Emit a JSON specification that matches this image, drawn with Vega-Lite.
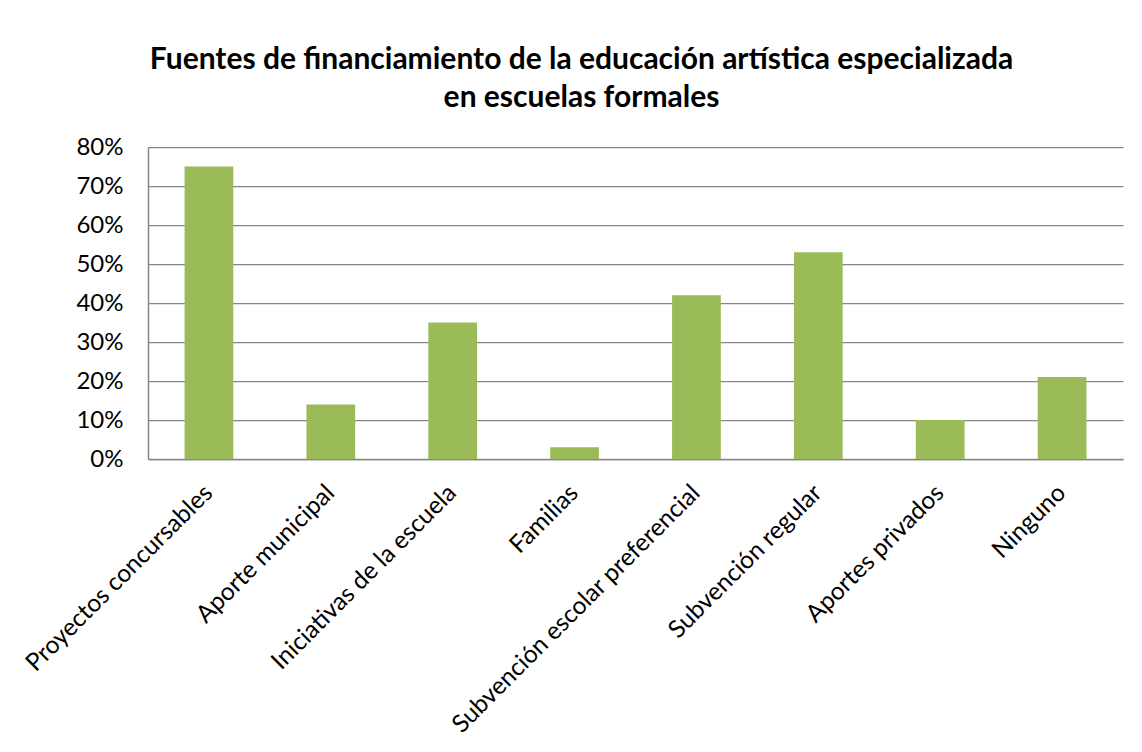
{
  "$schema": "https://vega.github.io/schema/vega-lite/v6.json",
  "width": 975,
  "height": 312,
  "autosize": {"type": "none"},
  "padding": {"left": 148, "top": 147, "right": 19, "bottom": 293},
  "background": "white",
  "title": {
    "text": ["Fuentes de financiamiento de la educación artística especializada", "en escuelas formales"],
    "font": "Lato",
    "fontSize": 30,
    "fontWeight": "bold",
    "color": "#000000",
    "anchor": "middle",
    "dx": -54,
    "lineHeight": 38,
    "offset": 22
  },
  "data": {
    "values": [
      {"fuente": "Proyectos concursables", "valor": 0.75},
      {"fuente": "Aporte municipal", "valor": 0.14},
      {"fuente": "Iniciativas de la escuela", "valor": 0.35},
      {"fuente": "Familias", "valor": 0.03},
      {"fuente": "Subvención escolar preferencial", "valor": 0.42},
      {"fuente": "Subvención regular", "valor": 0.53},
      {"fuente": "Aportes privados", "valor": 0.10},
      {"fuente": "Ninguno", "valor": 0.21}
    ]
  },
  "mark": {"type": "bar", "color": "#9BBB59"},
  "encoding": {
    "x": {
      "field": "fuente",
      "type": "nominal",
      "sort": null,
      "scale": {"paddingInner": 0.6, "paddingOuter": 0.3},
      "axis": {
        "title": null,
        "labelAngle": -45,
        "labelAlign": "right",
        "labelBaseline": "middle",
        "labelFont": "Lato",
        "labelFontSize": 24.5,
        "labelColor": "#000000",
        "labelPadding": 30,
        "labelLimit": 0,
        "ticks": false,
        "domainColor": "#868686",
        "domainWidth": 1.5,
        "grid": false
      }
    },
    "y": {
      "field": "valor",
      "type": "quantitative",
      "scale": {"domain": [0, 0.8], "nice": false},
      "axis": {
        "title": null,
        "values": [0, 0.1, 0.2, 0.3, 0.4, 0.5, 0.6, 0.7, 0.8],
        "format": ".0%",
        "labelFont": "Lato",
        "labelFontSize": 24,
        "labelColor": "#000000",
        "labelPadding": 25,
        "ticks": false,
        "domainColor": "#868686",
        "domainWidth": 1.5,
        "grid": true,
        "gridColor": "#868686",
        "gridWidth": 1.25
      }
    }
  },
  "config": {
    "view": {"stroke": null}
  }
}
